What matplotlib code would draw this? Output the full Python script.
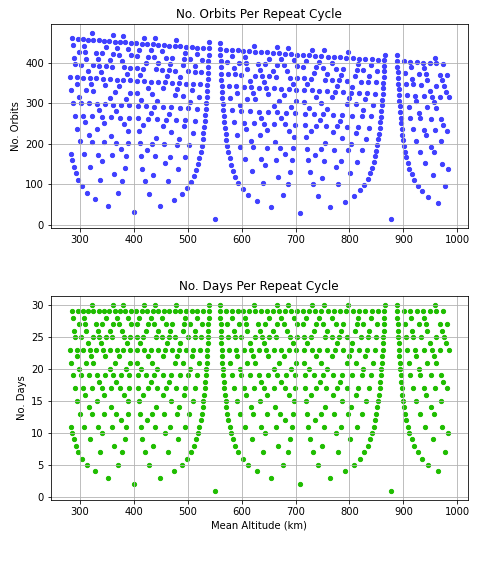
import numpy as np
import matplotlib
matplotlib.use("Agg")
import matplotlib.pyplot as plt

# Constants for the repeat ground track model
MU = 398600.4418        # km^3/s^2
RE = 6378.137           # km
J2 = 1.08263e-3
T_SID = 86164.0905      # sidereal day, s
INCL_DEG = 73.5

# Search space shown in the chart
DAYS = list(range(1, 31))        # repeat cycle length in days
ALT_MIN = 281.5                  # km
ALT_MAX = 984.25                 # km
REVS_LO, REVS_HI = 13.5, 16.0    # revs/day window to scan


def mean_altitude(revs_per_day):
    # required mean motion, then J2 corrected semi-major axis
    n = 2 * np.pi * revs_per_day / T_SID
    a = (MU / n**2) ** (1 / 3)
    c = 0.75 * J2 * (8 * np.cos(np.radians(INCL_DEG))**2 - 2)
    for _ in range(20):
        eps = c * (RE / a)**2
        a = (MU / (n / (1 + eps))**2) ** (1 / 3)
    return a - RE


alts, orbits, days = [], [], []
for d in DAYS:
    for n in range(int(np.ceil(REVS_LO * d)), int(np.floor(REVS_HI * d)) + 1):
        if np.gcd(n, d) != 1:
            continue
        h = mean_altitude(n / d)
        if ALT_MIN <= h <= ALT_MAX:
            alts.append(h)
            orbits.append(n)
            days.append(d)

alts = np.array(alts)
orbits = np.array(orbits)
days = np.array(days)

fig, (ax1, ax2) = plt.subplots(2, 1, figsize=(500 / 72, 576 / 72), dpi=72)
fig.subplots_adjust(left=0.102, right=0.935, top=0.958, bottom=0.132, hspace=0.33)

ax1.scatter(alts, orbits, s=18, color=(0.25, 0.25, 1.0))
ax1.set_title("No. Orbits Per Repeat Cycle")
ax1.set_ylabel("No. Orbits")
ax1.grid(True)

ax2.scatter(alts, days, s=18, color=(0.12, 0.74, 0.0))
ax2.set_title("No. Days Per Repeat Cycle")
ax2.set_ylabel("No. Days")
ax2.set_xlabel("Mean Altitude (km)")
ax2.grid(True)

fig.savefig("out.png")
